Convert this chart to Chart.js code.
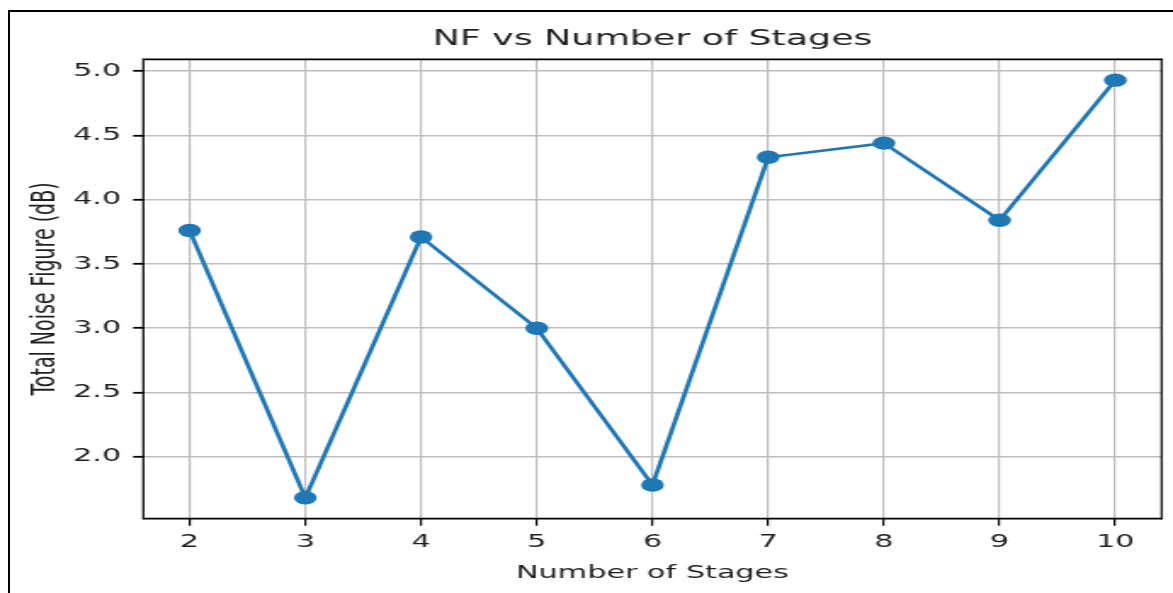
<!DOCTYPE html>
<html>
<head>
<meta charset="utf-8">
<title>NF vs Number of Stages</title>
<script src="https://cdn.jsdelivr.net/npm/chart.js@4.4.1/dist/chart.umd.min.js"></script>
<style>
    html, body { margin: 0; padding: 0; background: #fff; overflow: hidden; }
    #frame {
        position: absolute; left: 8px; top: 10px; width: 1200px; height: 620px;
        border-left: 2px solid #000; border-top: 2px solid #000;
    }
    #wrap { position: absolute; left: 0; top: 0; height: 593px; transform-origin: 0 0; }
</style>
</head>
<body>
<div id="frame"></div>
<div id="wrap"><canvas id="nfChart"></canvas></div>
<script>
// data
const stages = [2, 3, 4, 5, 6, 7, 8, 9, 10];
const noiseFigure = [3.76, 1.68, 3.71, 3.00, 1.78, 4.33, 4.44, 3.84, 4.93];
const xTicks = [2, 3, 4, 5, 6, 7, 8, 9, 10];
const yTicks = [2.0, 2.5, 3.0, 3.5, 4.0, 4.5, 5.0];

// the reference is a horizontally stretched screenshot, so draw narrow and stretch
const STRETCH = 1.7;
const wrap = document.getElementById('wrap');
wrap.style.width = (1173 / STRETCH) + 'px';
wrap.style.transform = 'scaleX(' + STRETCH + ')';

// matplotlib style 5% margins around the data
const pad = (lo, hi) => [lo - 0.05 * (hi - lo), hi + 0.05 * (hi - lo)];
const [xMin, xMax] = pad(Math.min(...stages), Math.max(...stages));
const [yMin, yMax] = pad(Math.min(...noiseFigure), Math.max(...noiseFigure));

const textColor = '#1e1e1e';
const gridColor = '#bdbdbd';
const lineColor = '#1f77b4';

// black box around the plot area
const boxFrame = {
    id: 'boxFrame',
    afterDatasetsDraw(chart) {
        const { ctx, chartArea: a } = chart;
        ctx.save();
        ctx.strokeStyle = '#000';
        ctx.lineWidth = 1.8;
        ctx.beginPath();
        ctx.moveTo(a.left, a.top); ctx.lineTo(a.right, a.top);
        ctx.moveTo(a.left, a.bottom); ctx.lineTo(a.right, a.bottom);
        ctx.stroke();
        ctx.lineWidth = 1.2;
        ctx.beginPath();
        ctx.moveTo(a.left, a.top - 0.9); ctx.lineTo(a.left, a.bottom + 0.9);
        ctx.moveTo(a.right, a.top - 0.9); ctx.lineTo(a.right, a.bottom + 0.9);
        ctx.stroke();
        ctx.restore();
    }
};

const ctx = document.getElementById('nfChart').getContext('2d');
new Chart(ctx, {
    type: 'line',
    data: {
        datasets: [{
            label: 'Total Noise Figure',
            data: stages.map((s, i) => ({ x: s, y: noiseFigure[i] })),
            borderColor: lineColor,
            backgroundColor: lineColor,
            borderWidth: 2.7,
            pointRadius: 6.7,
            pointHoverRadius: 6.7,
            pointBorderWidth: 0,
            tension: 0,
            fill: false
        }]
    },
    options: {
        responsive: true,
        maintainAspectRatio: false,
        animation: false,
        layout: { padding: { left: 0, right: 5.7, top: 0, bottom: 0 } },
        plugins: {
            legend: { display: false },
            tooltip: { enabled: false },
            title: {
                display: true,
                fullSize: false,   // center over the plot area like matplotlib
                text: 'NF vs Number of Stages',
                color: textColor,
                font: { family: 'DejaVu Sans', size: 21.4, weight: 'normal', lineHeight: 1.2 },
                padding: { top: 27, bottom: 6.6 }
            }
        },
        scales: {
            x: {
                type: 'linear',
                min: xMin,
                max: xMax,
                afterBuildTicks: ax => { ax.ticks = xTicks.map(v => ({ value: v })); },
                afterFit: ax => { ax.height = 74.3; },
                border: { display: false },
                grid: { color: gridColor, lineWidth: 1.2, tickColor: '#000', tickLength: 7, tickWidth: 1.2 },
                ticks: {
                    color: textColor,
                    autoSkip: false,
                    maxRotation: 0,
                    padding: 6,
                    font: { family: 'DejaVu Sans', size: 17.8 }
                },
                title: {
                    display: true,
                    text: 'Number of Stages',
                    color: textColor,
                    font: { family: 'DejaVu Sans', size: 17.8, lineHeight: 1.2 },
                    padding: { top: 0, bottom: 9.3 }
                }
            },
            y: {
                type: 'linear',
                min: yMin,
                max: yMax,
                afterBuildTicks: ax => { ax.ticks = yTicks.map(v => ({ value: v })); },
                afterFit: ax => { ax.width = 84.3; },
                border: { display: false },
                grid: { color: gridColor, lineWidth: 1.6, tickColor: '#000', tickLength: 6, tickWidth: 1.8 },
                ticks: {
                    color: textColor,
                    padding: 7,
                    font: { family: 'DejaVu Sans', size: 17.8 },
                    callback: v => Number(v).toFixed(1)
                },
                title: {
                    display: true,
                    text: 'Total Noise Figure (dB)',
                    color: textColor,
                    font: { family: 'DejaVu Sans', size: 19, lineHeight: 1.2 },
                    padding: { top: 15.2, bottom: 0 }
                }
            }
        }
    },
    plugins: [boxFrame]
});
</script>
</body>
</html>
